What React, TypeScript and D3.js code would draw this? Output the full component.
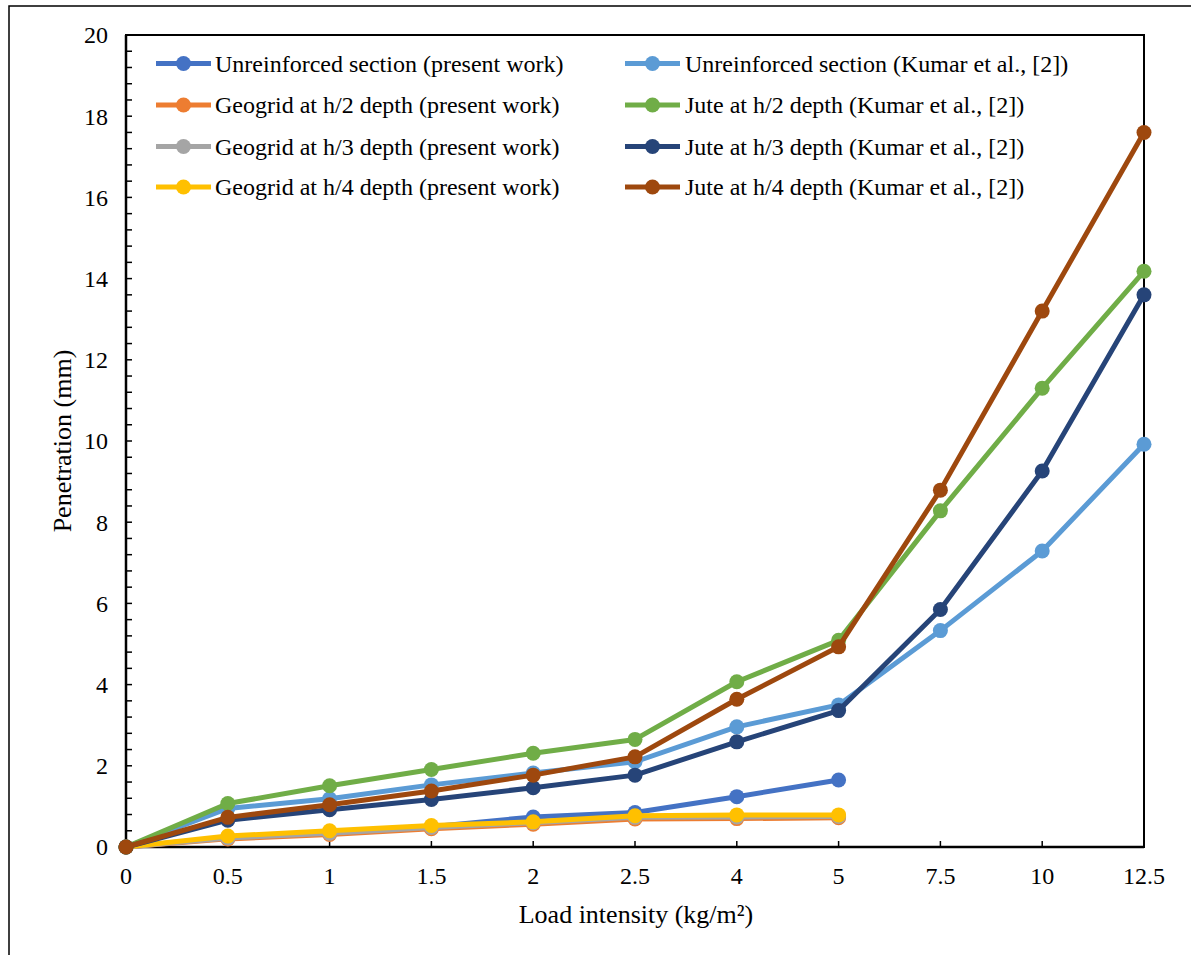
import React from "react";
import * as d3 from "d3";

const categories = ["0", "0.5", "1", "1.5", "2", "2.5", "4", "5", "7.5", "10", "12.5"];
const yTicks = [0, 2, 4, 6, 8, 10, 12, 14, 16, 18, 20];

const unreinforcedPresent = [0, 0.24, 0.36, 0.5, 0.74, 0.85, 1.24, 1.65];
const geogridH2 = [0, 0.2, 0.31, 0.45, 0.56, 0.69, 0.7, 0.72];
const geogridH3 = [0, 0.22, 0.34, 0.48, 0.6, 0.73, 0.74, 0.75];
const geogridH4 = [0, 0.27, 0.4, 0.53, 0.62, 0.77, 0.79, 0.79];
const unreinforcedKumar = [0, 0.95, 1.19, 1.53, 1.82, 2.1, 2.96, 3.5, 5.33, 7.29, 9.92];
const juteH2 = [0, 1.07, 1.51, 1.91, 2.31, 2.65, 4.07, 5.09, 8.28, 11.3, 14.18];
const juteH3 = [0, 0.66, 0.92, 1.17, 1.46, 1.77, 2.59, 3.36, 5.85, 9.26, 13.6];
const juteH4 = [0, 0.73, 1.04, 1.38, 1.77, 2.22, 3.64, 4.93, 8.79, 13.2, 17.6];

const seriesNames = [
  "Unreinforced section (present work)",
  "Geogrid at h/2 depth (present work)",
  "Geogrid at h/3 depth (present work)",
  "Geogrid at h/4 depth (present work)",
  "Unreinforced section (Kumar et al., [2])",
  "Jute at h/2 depth (Kumar et al., [2])",
  "Jute at h/3 depth (Kumar et al., [2])",
  "Jute at h/4 depth (Kumar et al., [2])",
];
const seriesColors = ["#4472C4", "#ED7D31", "#A5A5A5", "#FFC000", "#5B9BD5", "#70AD47", "#264478", "#9E480E"];
const seriesValues = [
  unreinforcedPresent, geogridH2, geogridH3, geogridH4,
  unreinforcedKumar, juteH2, juteH3, juteH4,
];

const FONT = "Liberation Serif, Times New Roman, serif";

export default function App() {
  const W = 1191, H = 955;
  const left = 126, right = 1144, top = 35, bottom = 847;
  const x = d3.scalePoint<string>().domain(categories).range([left, right]);
  const y = d3.scaleLinear().domain([0, 20]).range([bottom, top]);
  const line = d3.line<number>().x((_, i) => x(categories[i]) as number).y((d) => y(d));
  const minor = d3.range(0, 20.001, 0.4);
  const fs = 24;
  const tfs = 26;

  const legendRows = [63.5, 105, 146.5, 187];
  const legendCols = [{ l0: 156, l1: 211, t: 215 }, { l0: 625, l1: 680, t: 685 }];

  return (
    <svg width={W} height={H} style={{ position: "absolute", left: 0, top: 0, background: "#fff" }}>
      <rect x={0} y={0} width={W} height={H} fill="#fff" />
      <rect x={9} y={6} width={1400} height={1200} fill="none" stroke="#000" strokeWidth={1.5} />
      <rect x={left} y={top} width={right - left} height={bottom - top} fill="none" stroke="#000" strokeWidth={2} />
      {minor.map((v, i) => (
        <line key={"m" + i} x1={left} x2={left + 6} y1={y(v)} y2={y(v)} stroke="#000" strokeWidth={1.5} />
      ))}
      {yTicks.map((v) => (
        <text key={"yt" + v} x={108} y={y(v)} dy="0.35em" textAnchor="end" fontSize={fs} fontFamily={FONT}>{v}</text>
      ))}
      {categories.map((c) => (
        <g key={"xt" + c}>
          <line x1={x(c)} x2={x(c)} y1={bottom} y2={bottom - 6} stroke="#000" strokeWidth={1.5} />
          <text x={x(c)} y={bottom + 20} dy="0.71em" textAnchor="middle" fontSize={fs} fontFamily={FONT}>{c}</text>
        </g>
      ))}
      <line x1={left} x2={right} y1={bottom} y2={bottom} stroke="#000" strokeWidth={2.5} />
      <line x1={left} x2={left} y1={top} y2={bottom} stroke="#000" strokeWidth={2.5} />
      {seriesValues.map((vals, si) => (
        <g key={"s" + si}>
          <path d={line(vals) || ""} fill="none" stroke={seriesColors[si]} strokeWidth={5} strokeLinejoin="round" />
          {vals.map((v, i) => (
            <circle key={i} cx={x(categories[i])} cy={y(v)} r={7.5} fill={seriesColors[si]} />
          ))}
        </g>
      ))}
      {seriesNames.map((name, i) => {
        const col = legendCols[Math.floor(i / 4)];
        const ry = legendRows[i % 4];
        return (
          <g key={"lg" + i}>
            <line x1={col.l0} x2={col.l1} y1={ry} y2={ry} stroke={seriesColors[i]} strokeWidth={5} />
            <circle cx={(col.l0 + col.l1) / 2} cy={ry} r={7.5} fill={seriesColors[i]} />
            <text x={col.t} y={ry} dy="0.35em" fontSize={fs} fontFamily={FONT}>{name}</text>
          </g>
        );
      })}
      <text x={(left + right) / 2 + 1} y={914} dy="0.35em" textAnchor="middle" fontSize={tfs} fontFamily={FONT}>Load intensity (kg/m²)</text>
      <text transform={`translate(62, ${(top + bottom) / 2}) rotate(-90)`} dy="0.35em" textAnchor="middle" fontSize={tfs} fontFamily={FONT}>Penetration (mm)</text>
    </svg>
  );
}
